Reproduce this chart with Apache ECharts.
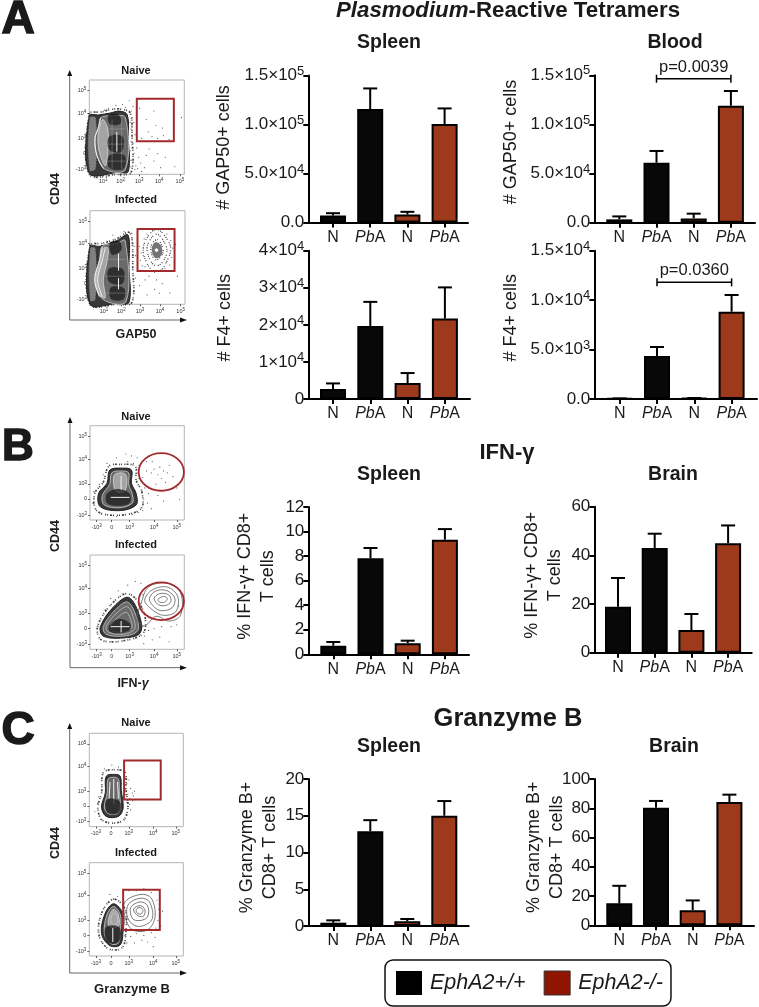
<!DOCTYPE html>
<html><head><meta charset="utf-8">
<style>html,body{margin:0;padding:0;background:#fff}#c{width:759px;height:1007px}</style>
<script src="https://cdn.jsdelivr.net/npm/echarts@6/dist/echarts.min.js"></script>
</head><body><div id="c"></div>
<script>
// ---------- bar chart data ----------
const categories = ['N','PbA','N','PbA'];
const gapSpleenMean = [7100,115700,8100,100500];
const gapSpleenUpper = [9500,136800,10900,116400];
const gapBloodMean = [3400,61000,4400,119000];
const gapBloodUpper = [6400,73000,9200,134000];
const f4SpleenMean = [2700,19700,4300,21700];
const f4SpleenUpper = [4200,26200,7000,30100];
const f4BloodMean = [60,4350,100,8830];
const f4BloodUpper = [60,5260,100,10520];
const ifnSpleenMean = [0.7,7.82,0.9,9.34];
const ifnSpleenUpper = [1.0,8.66,1.11,10.2];
const ifnBrainMean = [18.9,43,9.3,45];
const ifnBrainUpper = [30.7,48.9,15.9,52.3];
const gzmSpleenMean = [0.45,12.9,0.63,15];
const gzmSpleenUpper = [0.77,14.4,0.95,17];
const gzmBrainMean = [15,80.4,10.3,84.3];
const gzmBrainUpper = [27,85,17,89.3];
const gapTicks = ['0.0','5.0×10^4','1.0×10^5','1.5×10^5'];
const f4SpleenTicks = ['0','1×10^4','2×10^4','3×10^4','4×10^4'];
const f4BloodTicks = ['0.0','5.0×10^3','1.0×10^4','1.5×10^4'];
const ifnSpleenTicks = ['0','2','4','6','8','10','12'];
const ifnBrainTicks = ['0','20','40','60'];
const gzmSpleenTicks = ['0','5','10','15','20'];
const gzmBrainTicks = ['0','20','40','60','80','100'];
const gapBloodBracket = [1,3,146500];
const f4BloodBracket = [1,3,11800];

// ---------- flow plot data (percent of each plot's range) ----------
const flowYValues = [5.3,22.3,38.2,64.7,88.7];
const flowYLabels = ['-10^3','0','10^3','10^4','10^5'];
const gapXValues = [14.7,33,52.6,73.7,95.4];
const gapXLabels = ['10^1','10^2','10^3','10^4','10^5'];
const otherXValues = [7,23,42,68,92];
const otherXLabels = ['-10^3','0','10^3','10^4','10^5'];

const gapNaiveGate = [50,35,89,80];
const gapInfectedGate = [50,35.6,89,80.4];
const ifnGate = [75.6,51,24,20];
const gzmNaiveGate = [37,29,76,71];
const gzmInfectedGate = [36,28,75,71];

const gapNaiveContours = [
 ['speck',[[0,64],[12,66],[24,69],[34,69],[43,65],[45,40],[44,2],[30,0],[0,0]]],
 ['halo',[[0,62],[10,63],[22,65],[32,67],[40,63],[41,40],[41,3],[30,2],[0,1]]],
 ['strip',[[0,60],[7,60],[7,6],[0,4]]],
 ['mid',[[12,60],[24,62],[38,60],[38,5],[17,5],[8,20],[6,38],[10,50]]],
 ['whiteLine',[[12,60],[9,48],[6,38],[8,20],[15,6]]],
 ['light',[[14,58],[10,46],[9,36],[11,22],[17,9],[20,30],[19,50]]],
 ['dark',[[20,63],[31,63],[33,54],[22,53]]],
 ['dark',[[21,40],[35,40],[34,24],[21,26]]],
 ['dark',[[21,20],[37,20],[36,6],[21,7]]],
 ['texture',[[16,48],[38,48]]],['texture',[[14,32],[38,32]]],['texture',[[14,14],[38,14]]],
 ['texture',[[24,58],[24,6]]],['texture',[[34,58],[34,6]]],
 ['whiteLine',[[29,45],[29,24]]]
];
const gapNaiveDots = [[45,60],[47,55],[44,48],[48,42],[46,33],[50,28],[47,22],[52,18],[44,15],[49,9],[54,12],[60,20],[63,27],[68,14],[58,7],[72,22],[55,38],[62,45],[66,40],[72,38],[78,41],[84,37],[60,58],[70,52],[53,70],[68,67],[77,49],[97,60],[46,72],[35,74],[28,73],[20,70],[90,8],[80,18],[75,7],[42,78],[43,55],[44,35],[43,25],[46,12],[45,50],[48,5],[51,6],[55,3],[43,8],[44,67],[38,71],[16,68],[8,66]];
const gapInfectedContours = [
 ['speck',[[0,63],[12,65],[28,70],[40,77],[44,72],[45,40],[44,2],[28,0],[0,0]]],
 ['halo',[[0,62],[10,62],[28,68],[40,74],[41,40],[41,2],[28,1],[0,0]]],
 ['strip',[[0,60],[6,60],[6,5],[0,4]]],
 ['mid',[[13,62],[28,65],[37,68],[38,3],[14,5],[5,26],[10,47]]],
 ['light',[[14,60],[11,46],[6,26],[11,9],[16,7],[14,26],[18,46],[19,60]]],
 ['whiteLine',[[13,62],[10,47],[5,26],[10,8]]],
 ['whiteLine',[[16,60],[13,47],[8,26],[13,8]]],
 ['dark',[[21,66],[31,67],[33,58],[23,53]]],
 ['dark',[[20,38],[35,37],[34,22],[20,24]]],
 ['dark',[[22,18],[36,17],[35,5],[22,6]]],
 ['texture',[[16,48],[38,48]]],['texture',[[16,30],[38,30]]],['texture',[[16,12],[38,12]]],
 ['whiteLine',[[30,54],[30,36]]],
 ['whiteLine',[[30,28],[30,16]]],
 ['speckFine',[[56,60],[62,74],[70,80],[78,74],[85,60],[80,44],[74,36],[66,36],[59,46]]],
 ['speckFine',[[60,60],[64,70],[70,75],[76,70],[81,58],[77,46],[70,41],[64,46]]],
 ['speckFine',[[64,58],[66,66],[71,69],[75,64],[77,56],[73,49],[68,48]]],
 ['clusterDark',[[65,58],[67,65],[71,66],[75,62],[76,55],[73,50],[68,50]]],
 ['spot',[[68,58],[70,60],[72,58],[70,56]]]
];
const gapInfectedDots = [[52,62],[54,55],[53,47],[55,41],[57,70],[60,75],[56,52],[58,40],[63,36],[68,34],[74,35],[79,38],[84,42],[86,50],[87,60],[85,68],[81,75],[75,80],[66,79],[62,30],[70,26],[76,22],[68,16],[73,12],[58,26],[52,20],[48,28],[46,15],[60,10],[84,12],[92,30],[90,64],[48,52],[47,62],[44,76],[36,78],[24,74]];
const ifnNaiveContours = [
 ['speck',[[34,59],[20,57],[14,40],[5,28],[7,10],[30,5],[54,12],[55,30],[49,42],[48,57]]],
 ['halo',[[34,55],[21,53],[18,39],[9,28],[11,14],[32,10],[49,16],[49,28],[44,39],[44,53]]],
 ['mid',[[33,52],[23,50],[21,38],[13,26],[15,16],[32,13],[45,18],[45,27],[41,38],[41,50]]],
 ['light',[[33,50],[26,48],[25,38],[28,30],[36,30],[39,38],[38,48]]],
 ['dark',[[18,28],[30,33],[42,28],[42,18],[30,15],[18,18]]],
 ['whiteLine',[[33,47],[33,32]]],
 ['whiteLine',[[22,24],[42,24]]]
];
const ifnNaiveDots = [[56,45],[52,58],[50,66],[44,68],[38,70],[28,66],[58,34],[62,28],[57,22],[61,18],[56,10],[65,12],[50,50],[60,52],[65,50],[68,54],[72,48],[74,56],[78,52],[82,50],[84,58],[76,44],[70,38],[80,40],[88,46],[84,32],[72,26],[78,20],[66,62],[60,62],[92,34],[95,22],[52,44],[55,30],[51,8],[45,6],[28,4],[12,6],[3,18],[4,30],[10,38],[14,48],[18,60],[40,62],[46,60]];
const ifnInfectedContours = [
 ['speck',[[8,24],[22,47],[40,59],[56,42],[57,18],[35,9],[12,10]]],
 ['halo',[[11,24],[25,45],[41,55],[53,34],[53,17],[35,12],[14,14]]],
 ['mid',[[14,24],[27,42],[40,50],[50,32],[50,19],[35,14],[17,16]]],
 ['grayRing',[[17,24],[29,39],[40,45],[47,30],[47,21],[35,16],[20,18]]],
 ['grayRing',[[22,25],[32,36],[39,39],[44,29],[44,22],[34,18],[24,20]]],
 ['dark',[[20,24],[30,32],[42,28],[42,20],[30,17],[21,19]]],
 ['whiteLine',[[33,30],[33,18]]],
 ['whiteLine',[[22,24],[42,24]]],
 ['line',[[54,48],[62,66],[82,70],[96,60],[96,36],[84,30],[70,35],[58,25],[50,32]]],
 ['line',[[58,52],[66,63],[82,66],[93,56],[91,40],[78,36],[66,42]]],
 ['line',[[63,54],[70,62],[82,62],[90,54],[87,44],[75,41],[67,46]]],
 ['line',[[68,54],[74,59],[83,58],[86,52],[82,47],[73,47]]],
 ['line',[[72,53],[78,56],[82,54],[79,50],[74,50]]]
];
const ifnInfectedDots = [[30,62],[40,68],[48,72],[54,70],[56,58],[22,54],[16,42],[58,14],[62,20],[68,22],[76,24],[86,24],[92,26],[66,10],[74,13],[84,8],[57,6],[94,46],[56,24]];
const gzmNaiveContours = [
 ['speck',[[27,61],[15,58],[13,36],[9,20],[15,6],[35,6],[41,20],[39,40],[38,58]]],
 ['halo',[[27,56],[18,54],[17,36],[13,21],[18,11],[31,11],[36,20],[34,39],[33,54]]],
 ['mid',[[26,53],[20,51],[19,36],[16,21],[20,14],[30,14],[33,21],[32,38],[31,51]]],
 ['whiteLine',[[26,51],[26,24]]],
 ['whiteLine',[[22,48],[21,30]]],
 ['whiteLine',[[30,48],[31,30]]],
 ['dark',[[18,28],[26,30],[33,26],[32,16],[24,13],[18,17]]]
];
const gzmNaiveDots = [[38,52],[40,46],[38,40],[41,35],[43,30],[39,29],[44,41],[46,36],[42,50],[37,60],[31,64],[24,66],[16,62],[10,32],[9,25],[6,16],[41,22],[44,18],[40,12],[12,8],[46,28],[48,38],[39,34],[40,26],[43,24],[47,33],[39,44],[37,48]];
const gzmInfectedContours = [
 ['speck',[[26,61],[14,48],[10,24],[20,8],[35,9],[39,28],[38,50]]],
 ['halo',[[26,56],[17,46],[13,24],[22,11],[33,12],[36,28],[36,45]]],
 ['mid',[[26,53],[19,45],[16,24],[23,13],[31,14],[33,28],[33,44]]],
 ['light',[[26,50],[21,42],[21,32],[31,32],[31,44]]],
 ['grayRing',[[26,46],[23,40],[24,34],[29,34],[30,42]]],
 ['dark',[[17,30],[26,33],[33,29],[32,16],[24,13],[18,17]]],
 ['whiteLine',[[25,30],[25,15]]],
 ['line',[[38,58],[55,66],[66,62],[70,42],[62,28],[46,28],[38,42]]],
 ['line',[[42,56],[55,62],[64,58],[67,40],[56,32],[46,34],[40,44]]],
 ['line',[[44,52],[54,58],[62,54],[62,42],[54,38],[46,40]]],
 ['line',[[47,50],[54,54],[59,50],[58,43],[52,43]]],
 ['line',[[50,50],[54,52],[57,49],[55,45],[51,46]]]
];
const gzmInfectedDots = [[30,64],[36,68],[42,70],[50,70],[58,72],[66,68],[72,60],[74,50],[73,38],[71,30],[66,25],[58,22],[50,24],[44,21],[38,22],[48,14],[56,17],[62,15],[40,14],[70,20],[22,66],[78,48],[76,32],[68,10]];

// ---------- layout ----------
const fontFamily = '"Liberation Sans", Arial, sans-serif';
const barPanels = [
 {mean:gapSpleenMean,upper:gapSpleenUpper,ticks:gapTicks,yMax:150000,yStep:50000,name:'# GAP50+ cells',x0:308.3,x1:468,top:75.5,bottom:222.5,c0:333,step:37.2,gap:73,shift:3},
 {mean:gapBloodMean,upper:gapBloodUpper,ticks:gapTicks,yMax:150000,yStep:50000,name:'# GAP50+ cells',x0:594.3,x1:755,top:75.3,bottom:222.7,c0:619.3,step:37.2,gap:72,shift:14,bracket:gapBloodBracket,p:'p=0.0039'},
 {mean:f4SpleenMean,upper:f4SpleenUpper,ticks:f4SpleenTicks,yMax:40000,yStep:10000,name:'# F4+ cells',x0:308.3,x1:470,top:250.7,bottom:399,c0:333,step:37.3,gap:72,shift:14},
 {mean:f4BloodMean,upper:f4BloodUpper,ticks:f4BloodTicks,yMax:15000,yStep:5000,name:'# F4+ cells',x0:594.3,x1:757,top:250.7,bottom:399,c0:619.7,step:37.3,gap:72,shift:14,bracket:f4BloodBracket,p:'p=0.0360'},
 {mean:ifnSpleenMean,upper:ifnSpleenUpper,ticks:ifnSpleenTicks,yMax:12,yStep:2,name:'% IFN-γ+ CD8+\nT cells',x0:308.3,x1:469,top:507,bottom:654.3,c0:333.3,step:37.2,gap:29,shift:9},
 {mean:ifnBrainMean,upper:ifnBrainUpper,ticks:ifnBrainTicks,yMax:60,yStep:20,name:'% IFN-γ+ CD8+\nT cells',x0:594.3,x1:751.7,top:506.7,bottom:652.7,c0:618,step:36.7,gap:28,shift:9},
 {mean:gzmSpleenMean,upper:gzmSpleenUpper,ticks:gzmSpleenTicks,yMax:20,yStep:5,name:'% Granzyme B+\nCD8+ T cells',x0:308.3,x1:468.7,top:779,bottom:926,c0:333.3,step:37,gap:27,shift:10},
 {mean:gzmBrainMean,upper:gzmBrainUpper,ticks:gzmBrainTicks,yMax:100,yStep:20,name:'% Granzyme B+\nCD8+ T cells',x0:594.3,x1:754,top:779,bottom:925.3,c0:619.3,step:36.7,gap:26,shift:10}
];
const flowPanels = [
 {x0:89.3,x1:184.3,top:80,bottom:174.3,xv:gapXValues,xl:gapXLabels,contours:gapNaiveContours,dots:gapNaiveDots,gate:gapNaiveGate,kind:'rect'},
 {x0:90,x1:185,top:210.7,bottom:304.3,xv:gapXValues,xl:gapXLabels,contours:gapInfectedContours,dots:gapInfectedDots,gate:gapInfectedGate,kind:'rect'},
 {x0:90,x1:184.3,top:425.7,bottom:520,xv:otherXValues,xl:otherXLabels,contours:ifnNaiveContours,dots:ifnNaiveDots,gate:ifnGate,kind:'ellipse'},
 {x0:90,x1:184.3,top:555,bottom:649.3,xv:otherXValues,xl:otherXLabels,contours:ifnInfectedContours,dots:ifnInfectedDots,gate:ifnGate,kind:'ellipse'},
 {x0:89.3,x1:183.3,top:733.3,bottom:826.7,xv:otherXValues,xl:otherXLabels,contours:gzmNaiveContours,dots:gzmNaiveDots,gate:gzmNaiveGate,kind:'rect'},
 {x0:89.3,x1:183.3,top:862.7,bottom:956,xv:otherXValues,xl:otherXLabels,contours:gzmInfectedContours,dots:gzmInfectedDots,gate:gzmInfectedGate,kind:'rect'}
];
const contourStyles = {
 speck:{fill:'none',stroke:'#444',lineWidth:1.7,lineDash:[1,1,1,2,2,1,1,3]},
 speckFine:{fill:'none',stroke:'#333',lineWidth:1.1,lineDash:[1,1.5,1,1,1,3]},
 halo:{fill:'#383838',stroke:'#222',lineWidth:1},
 strip:{fill:'#808080',stroke:'#333',lineWidth:1,lineDash:[2,1]},
 mid:{fill:'#6a6a6a',stroke:'#ddd',lineWidth:.7},
 light:{fill:'#a4a4a4',stroke:'#eee',lineWidth:.6},
 dark:{fill:'rgba(25,25,25,.72)',stroke:'none',lineWidth:0},
 whiteLine:{fill:'none',stroke:'#f4f4f4',lineWidth:1},
 texture:{fill:'none',stroke:'rgba(190,190,190,.55)',lineWidth:.6},
 grayRing:{fill:'none',stroke:'#cfcfcf',lineWidth:.7},
 line:{fill:'none',stroke:'#5a5a5a',lineWidth:.8},
 clusterDark:{fill:'rgba(40,40,40,.65)',stroke:'none',lineWidth:0},
 spot:{fill:'#fff',stroke:'none',lineWidth:0}
};
const openStyles = {whiteLine:1,texture:1};
const BLACK='#080808', RUST='#9c3a1b', GATE='#a32a2c', INK='#1a1a1a';

// ---------- helpers ----------
const supText = s => s.includes('^') ? s.split('^')[0]+'{s|'+s.split('^')[1]+'}' : s;
const catLabel = s => s==='PbA' ? '{i|Pb}A' : s;

const grid=[],xAxis=[],yAxis=[],series=[];
barPanels.forEach((p,k)=>{
  grid.push({left:p.x0,top:p.top,width:p.x1-p.x0,height:p.bottom-p.top});
  const min=(p.x0-p.c0)/p.step, max=(p.x1-p.c0)/p.step;
  xAxis.push({type:'value',gridIndex:k,min,max,splitLine:{show:false},
    axisLine:{show:true,onZero:false,lineStyle:{color:'#000',width:2}},
    axisTick:{show:true,customValues:[0,1,2,3],length:5,lineStyle:{color:'#000',width:2}},
    axisLabel:{show:true,customValues:[0,1,2,3],margin:7,fontFamily,fontSize:16,color:INK,
      formatter:v=>catLabel(categories[v]),
      rich:{i:{fontStyle:'italic',fontFamily,fontSize:16,color:INK}}}});
  yAxis.push({type:'value',gridIndex:k,min:0,max:p.yMax,interval:p.yStep,splitLine:{show:false},
    name:p.name,nameLocation:'middle',nameRotate:90,nameGap:p.gap,nameMoveOverlap:false,
    nameTextStyle:{fontFamily,fontSize:18,color:INK,lineHeight:23,padding:[0,0,0,p.shift]},
    axisLine:{show:true,onZero:false,lineStyle:{color:'#000',width:2}},
    axisTick:{show:true,length:5,lineStyle:{color:'#000',width:2}},
    axisLabel:{margin:4,fontFamily,fontSize:17,color:INK,
      formatter:v=>supText(p.ticks[Math.round(v/p.yStep)]),
      rich:{s:{fontFamily,fontSize:13,color:INK,padding:[0,0,9,0],lineHeight:13}}}});
  const pts=ids=>ids.map(i=>[i,p.mean[i]]);
  const bar=(name,color,ids)=>({type:'bar',name,xAxisIndex:k,yAxisIndex:k,barWidth:26,barGap:'-100%',z:3,
    itemStyle:{color,borderColor:'#000',borderWidth:2},data:pts(ids),silent:true});
  series.push({type:'custom',xAxisIndex:k,yAxisIndex:k,z:2,silent:true,clip:false,
    data:p.mean.map((m,i)=>[i,m,p.upper[i]]),
    renderItem:(params,api)=>{
      const a=api.coord([api.value(0),api.value(1)]),b=api.coord([api.value(0),api.value(2)]);
      const st={stroke:'#000',lineWidth:2,fill:'none'};
      return {type:'group',children:[
        {type:'line',shape:{x1:a[0],y1:a[1],x2:b[0],y2:b[1]},style:st},
        {type:'line',shape:{x1:b[0]-7,y1:b[1],x2:b[0]+7,y2:b[1]},style:st}]};
    }});
  series.push(bar('EphA2+/+',BLACK,[0,1]),bar('EphA2-/-',RUST,[2,3]));
  if(p.bracket){
    series.push({type:'custom',xAxisIndex:k,yAxisIndex:k,z:4,silent:true,clip:false,data:[p.bracket],
      renderItem:(params,api)=>{
        const a=api.coord([api.value(0),api.value(2)]),b=api.coord([api.value(1),api.value(2)]);
        const st={stroke:'#000',lineWidth:1.5,fill:'none'};
        return {type:'group',children:[
          {type:'line',shape:{x1:a[0],y1:a[1],x2:b[0],y2:b[1]},style:st},
          {type:'line',shape:{x1:a[0],y1:a[1]-4,x2:a[0],y2:a[1]+4},style:st},
          {type:'line',shape:{x1:b[0],y1:b[1]-4,x2:b[0],y2:b[1]+4},style:st},
          {type:'text',style:{text:p.p,x:(a[0]+b[0])/2,y:a[1]-3,align:'center',verticalAlign:'bottom',
            fontFamily,fontSize:16.5,fill:INK}}]};
      }});
  }
});
flowPanels.forEach((p,j)=>{
  const k=barPanels.length+j;
  grid.push({left:p.x0,top:p.top,width:p.x1-p.x0,height:p.bottom-p.top,show:true,borderColor:'#b4b4b4',borderWidth:1,backgroundColor:'#fff'});
  const tickFont={fontFamily,fontSize:5.5,color:'#333',rich:{s:{fontFamily,fontSize:4.5,color:'#333',padding:[0,0,3,0],lineHeight:4}}};
  xAxis.push({type:'value',gridIndex:k,min:0,max:100,splitLine:{show:false},axisLine:{show:false},
    axisTick:{show:true,customValues:p.xv,length:2,lineStyle:{color:'#222',width:.7}},
    axisLabel:{show:true,customValues:p.xv,margin:4,...tickFont,formatter:v=>supText(p.xl[p.xv.indexOf(v)]||'')}});
  yAxis.push({type:'value',gridIndex:k,min:0,max:100,splitLine:{show:false},axisLine:{show:false},
    axisTick:{show:true,customValues:flowYValues,length:2,lineStyle:{color:'#222',width:.7}},
    axisLabel:{show:true,customValues:flowYValues,margin:3,...tickFont,formatter:v=>supText(flowYLabels[flowYValues.indexOf(v)]||'')}});
  series.push({type:'custom',xAxisIndex:k,yAxisIndex:k,z:5,silent:true,data:p.contours.map((c,i)=>[i]),
    renderItem:(params,api)=>{
      const c=p.contours[api.value(0)];
      const st=contourStyles[c[0]];
      const shape={points:c[1].map(q=>api.coord(q)),smooth:c[1].length>3?0.35:0};
      return {type:openStyles[c[0]]?'polyline':'polygon',shape,
        style:{fill:st.fill,stroke:st.stroke,lineWidth:st.lineWidth,lineDash:st.lineDash||null}};
    }});
  series.push({type:'scatter',xAxisIndex:k,yAxisIndex:k,z:6,silent:true,symbolSize:1.2,itemStyle:{color:'#333'},data:p.dots});
  series.push({type:'custom',xAxisIndex:k,yAxisIndex:k,z:7,silent:true,data:[p.gate],
    renderItem:(params,api)=>{
      const style={fill:'none',stroke:GATE,lineWidth:p.kind==='rect'?2:1.8};
      if(p.kind==='rect'){
        const a=api.coord([api.value(0),api.value(3)]),b=api.coord([api.value(2),api.value(1)]);
        return {type:'rect',shape:{x:a[0],y:a[1],width:b[0]-a[0],height:b[1]-a[1]},style};
      }
      const c=api.coord([api.value(0),api.value(1)]),s=api.size([api.value(2),api.value(3)]);
      return {type:'ellipse',shape:{cx:c[0],cy:c[1],rx:s[0],ry:s[1]},style};
    }});
});

// ---------- text ----------
const T=(text,left,top,fontSize,extra)=>({text,left,top,padding:0,textAlign:'center',textVerticalAlign:'middle',
  textStyle:{fontFamily,fontWeight:'bold',fontSize,color:INK,...(extra||{})}});
const italicBold=s=>({rich:{i:{fontFamily,fontWeight:'bold',fontStyle:'italic',fontSize:s,color:INK}}});
const heavy={textBorderColor:INK,textBorderWidth:1.5};
const title=[
 T('A',18,20,46,heavy),T('B',18,448,44,heavy),T('C',18,731,46,heavy),
 T('{i|Plasmodium}-Reactive Tetramers',508,11,22.3,italicBold(22.3)),
 T('IFN-γ',507,453,22),T('Granzyme B',508,719,25.5),
 T('Spleen',389,43,19.5),T('Blood',675,43,19.5),
 T('Spleen',389,475,19.5),T('Brain',673,475,19.5),
 T('Spleen',389,747,19.5),T('Brain',674,747,19.5),
 T('Naive',136,71,11),T('Infected',136,200,11),
 T('Naive',136,417,11),T('Infected',136,545,11),
 T('Naive',136,723,11),T('Infected',136,853,11),
 T('GAP50',136,335,12.5),T('IFN-{i|γ}',133,684,12.5,italicBold(12.5)),T('Granzyme B',132,989,13)
];
const arrow=(x,top,bottom,right)=>[
 {type:'polyline',shape:{points:[[x,top+5],[x,bottom],[right-5,bottom]]},style:{stroke:'#666',lineWidth:1,fill:'none'}},
 {type:'polygon',shape:{points:[[x-2.5,top+6],[x+2.5,top+6],[x,top]]},style:{fill:'#111'}},
 {type:'polygon',shape:{points:[[right-7,bottom-2.5],[right-7,bottom+2.5],[right,bottom]]},style:{fill:'#111'}}
];
const rotLabel=(text,x,y)=>({type:'text',x,y,rotation:Math.PI/2,style:{text,x:0,y:0,align:'center',verticalAlign:'middle',fontFamily,fontWeight:'bold',fontSize:12.5,fill:INK}});
const graphic=[...arrow(69.7,70,320,187),...arrow(70,417,667.7,187),...arrow(69.7,723,973,187),
  rotLabel('CD44',56,189),rotLabel('CD44',56,536),rotLabel('CD44',56,843)];

const option={animation:false,backgroundColor:'#fff',title,grid,xAxis,yAxis,series,graphic,
 legend:{left:385,top:960,orient:'horizontal',padding:[10.5,8,10.5,11],itemGap:18,itemWidth:26,itemHeight:24,icon:'rect',
   borderColor:'#111',borderWidth:1.5,borderRadius:8,selectedMode:false,
   textStyle:{fontFamily,fontStyle:'italic',fontSize:21.5,color:INK,padding:[0,0,0,3]},
   data:[{name:'EphA2+/+',itemStyle:{color:'#000',borderWidth:0}},{name:'EphA2-/-',itemStyle:{color:'#8f1500',borderColor:'#333',borderWidth:1}}]}
};
const chart=echarts.init(document.getElementById('c'),null,{renderer:'canvas',width:759,height:1007});
chart.setOption(option);
</script></body></html>
